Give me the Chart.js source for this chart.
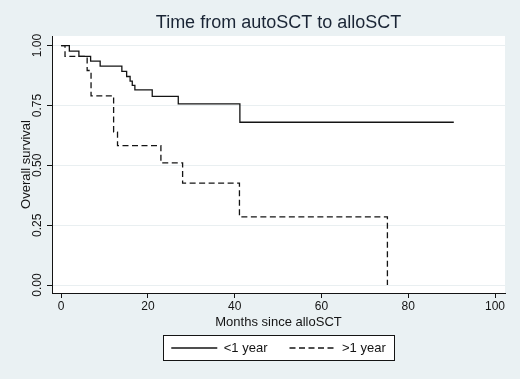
<!DOCTYPE html>
<html>
<head>
<meta charset="utf-8">
<script src="https://cdn.jsdelivr.net/npm/chart.js@4.4.0/dist/chart.umd.min.js"></script>
<style>
  body { margin: 0; background: #eaf1f3; }
  #wrap { width: 520px; height: 379px; }
</style>
</head>
<body>
<div id="wrap"><canvas id="kmChart" width="520" height="379"></canvas></div>
<script>
// Kaplan-Meier steps (months, survival after the drop)
const groupLabels = ['<1 year', '>1 year'];
const under1Months = [0, 1.9, 4.1, 6.8, 9.0, 14.0, 15.1, 15.9, 16.4, 17.0, 21.0, 27.0, 41.2, 90.5];
const under1Surv   = [1.0, 0.977, 0.955, 0.935, 0.914, 0.892, 0.871, 0.852, 0.834, 0.815, 0.788, 0.757, 0.68, 0.68];
const over1Months  = [0, 0.9, 6.0, 6.9, 12.1, 13.0, 23.0, 28.0, 41.1, 75.2];
const over1Surv    = [1.0, 0.955, 0.896, 0.79, 0.639, 0.582, 0.51, 0.426, 0.285, 0.0];
const xTicks = [0, 20, 40, 60, 80, 100];
const yTicks = [0, 0.25, 0.5, 0.75, 1];

const ink = '#141414';
const font = 'Liberation Sans, Arial, Helvetica, sans-serif';

// ------------------ BACKGROUND + LEGEND FRAME ------------------
const backdrop = {
    id: 'backdrop',
    beforeDraw(chart) {
        const { ctx, chartArea: a, legend } = chart;
        ctx.save();
        ctx.fillStyle = '#eaf1f3';
        ctx.fillRect(0, 0, chart.width, chart.height);
        ctx.fillStyle = '#ffffff';
        ctx.fillRect(a.left, a.top, a.right - a.left, a.bottom - a.top);

        const boxes = legend.legendHitBoxes || [];
        if (boxes.length) {
            const l = Math.round(Math.min(...boxes.map(b => b.left)) - 8);
            const r = Math.round(Math.max(...boxes.map(b => b.left + b.width)) + 8);
            const t = Math.round(boxes[0].top - 7);
            const b = Math.round(boxes[0].top + boxes[0].height + 5);
            ctx.fillRect(l, t, r - l, b - t);
            ctx.strokeStyle = ink;
            ctx.lineWidth = 1;
            ctx.strokeRect(l + 0.5, t + 0.5, r - l, b - t);
        }
        ctx.restore();
    }
};

const toPoints = (xs, ys) => xs.map((x, i) => ({ x: x, y: ys[i] }));

const ctx = document.getElementById('kmChart').getContext('2d');
new Chart(ctx, {
    type: 'line',
    data: {
        datasets: [
            {
                label: groupLabels[0],
                data: toPoints(under1Months, under1Surv),
                stepped: 'before',
                borderColor: ink,
                borderWidth: 1.3,
                pointRadius: 0,
                fill: false
            },
            {
                label: groupLabels[1],
                data: toPoints(over1Months, over1Surv),
                stepped: 'before',
                borderColor: ink,
                borderWidth: 1.3,
                borderDash: [6, 3.5],
                pointRadius: 0,
                fill: false
            }
        ]
    },
    options: {
        responsive: false,
        animation: false,
        layout: { padding: { left: 0, right: 15, top: 0, bottom: 14.5 } },
        plugins: {
            tooltip: { enabled: false },
            title: {
                display: true,
                text: 'Time from autoSCT to alloSCT',
                fullSize: false,
                color: '#1a2535',
                font: { family: font, size: 18, weight: 'normal' },
                padding: { top: 12, bottom: 2.4 }
            },
            legend: {
                position: 'bottom',
                fullSize: false,
                labels: {
                    usePointStyle: true,
                    pointStyle: 'line',
                    pointStyleWidth: 46,
                    padding: 22,
                    color: ink,
                    font: { family: font, size: 13 },
                    // point-style labels take the point's style, so copy the line dash back in
                    generateLabels: chart => {
                        const items = Chart.defaults.plugins.legend.labels.generateLabels(chart);
                        items.forEach(item => {
                            const ds = chart.data.datasets[item.datasetIndex];
                            item.lineDash = ds.borderDash || [];
                            item.lineWidth = ds.borderWidth;
                            item.strokeStyle = ds.borderColor;
                        });
                        return items;
                    }
                }
            }
        },
        scales: {
            x: {
                type: 'linear',
                min: -2.1,
                max: 102.3,
                afterBuildTicks: s => { s.ticks = xTicks.map(v => ({ value: v })); },
                afterFit: s => { s.height = 26.5; },
                grid: { drawOnChartArea: false, tickLength: 5, tickColor: ink },
                border: { color: ink, width: 1 },
                ticks: { color: ink, padding: 1, maxRotation: 0, font: { family: font, size: 12 } },
                title: {
                    display: true,
                    text: 'Months since alloSCT',
                    color: ink,
                    font: { family: font, size: 13 },
                    padding: { top: 0, bottom: -10.3 }
                }
            },
            y: {
                type: 'linear',
                min: -0.033,
                max: 1.04,
                afterBuildTicks: s => { s.ticks = yTicks.map(v => ({ value: v })); },
                afterFit: s => { s.width = 52; },
                grid: { color: '#e9eff1', tickLength: 5, tickColor: ink },
                border: { color: ink, width: 1 },
                ticks: {
                    color: ink,
                    minRotation: 90,
                    maxRotation: 90,
                    crossAlign: 'center',
                    padding: -2.4,
                    font: { family: font, size: 12 },
                    callback: v => v.toFixed(2)
                },
                title: {
                    display: true,
                    text: 'Overall survival',
                    color: ink,
                    font: { family: font, size: 13 },
                    padding: { top: 18.9, bottom: 0 }
                }
            }
        }
    },
    plugins: [backdrop]
});
</script>
</body>
</html>
